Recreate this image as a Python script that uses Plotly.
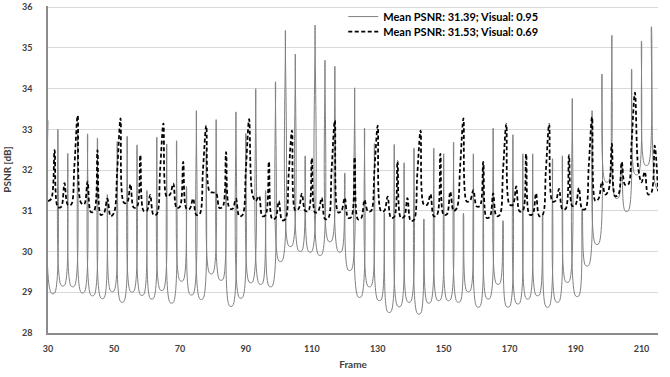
import plotly.graph_objects as go

frames = list(range(30, 216))

# Solid series (gray), one value per frame 30..215
psnr_solid = [
    33.22, 28.98, 28.98, 33.00, 29.17, 29.17, 32.41, 29.15, 29.15, 32.90, 29.00, 29.00,   # 30-41
    32.89, 28.93, 28.93, 32.79, 28.86, 28.86, 31.40, 29.03, 29.03, 32.70, 28.77, 28.77,   # 42-53
    32.83, 29.02, 29.02, 32.62, 28.94, 28.94, 31.50, 28.85, 28.85, 32.81, 29.06, 29.06,   # 54-65
    32.64, 28.75, 28.75, 32.72, 29.29, 29.29, 31.60, 28.95, 28.95, 33.46, 28.84, 28.84,   # 66-77
    32.50, 29.47, 29.47, 33.24, 29.31, 29.31, 31.70, 28.67, 28.67, 33.43, 28.87, 28.87,   # 78-89
    32.90, 29.25, 29.25, 34.00, 29.21, 29.21, 31.50, 29.15, 29.15, 34.17, 29.77, 29.77,   # 90-101
    35.43, 30.14, 30.14, 34.85, 30.02, 30.02, 32.35, 30.00, 30.00, 35.56, 29.92, 29.92,   # 102-113
    34.70, 30.26, 30.26, 34.55, 30.00, 30.00, 31.93, 29.55, 29.55, 34.02, 28.89, 28.89,   # 114-125
    33.03, 29.15, 29.15, 32.65, 28.81, 28.81, 30.95, 28.52, 28.52, 32.63, 28.66, 28.66,   # 126-137
    32.18, 28.77, 28.77, 32.54, 28.48, 28.48, 30.80, 28.75, 28.75, 32.54, 28.81, 28.81,   # 138-149
    32.40, 28.81, 28.81, 32.69, 28.77, 28.77, 30.94, 29.03, 29.03, 32.40, 28.65, 28.65,   # 150-161
    32.16, 28.85, 28.85, 33.03, 29.21, 29.21, 30.76, 28.65, 28.65, 32.87, 28.73, 28.73,   # 162-173
    32.40, 28.85, 28.85, 32.40, 28.93, 28.93, 30.91, 28.65, 28.65, 32.28, 28.77, 28.77,   # 174-185
    32.35, 29.26, 29.26, 33.76, 28.91, 28.91, 31.05, 29.66, 29.66, 33.46, 30.19, 30.19,   # 186-197
    34.36, 31.72, 31.72, 35.31, 31.32, 31.32, 32.18, 31.00, 31.00, 34.48, 31.90, 31.90,   # 198-209
    35.17, 32.13, 32.13, 35.52, 31.70, 31.50,                                             # 210-215
]

# Dashed series (black), one value per frame 30..215
psnr_dashed = [
    31.24, 31.30, 32.49, 31.09, 31.10, 31.68, 31.15, 31.15, 32.10, 33.34, 31.20, 31.16,   # 30-41
    31.72, 30.97, 31.00, 32.49, 30.90, 30.95, 31.30, 30.87, 30.95, 32.00, 33.27, 31.20,   # 42-53
    31.20, 31.65, 31.08, 31.10, 32.37, 31.00, 31.00, 31.39, 30.90, 30.92, 32.00, 33.15,   # 54-65
    31.35, 31.40, 31.67, 31.07, 31.10, 32.20, 31.05, 31.05, 31.30, 30.90, 30.92, 32.00,   # 66-77
    33.09, 31.47, 31.45, 31.43, 31.07, 31.10, 32.44, 31.07, 31.05, 31.30, 30.87, 30.90,   # 78-89
    32.00, 33.25, 31.40, 31.24, 31.36, 30.87, 30.90, 32.21, 30.80, 30.82, 31.24, 30.77,   # 90-101
    30.80, 31.90, 32.97, 31.01, 31.05, 31.42, 31.00, 31.00, 32.29, 30.96, 31.00, 31.32,   # 102-113
    30.80, 30.82, 32.00, 33.22, 30.96, 31.00, 31.32, 30.83, 30.85, 32.32, 30.79, 30.82,   # 114-125
    31.27, 30.99, 31.00, 32.00, 33.09, 30.99, 31.00, 31.35, 30.83, 30.85, 32.22, 30.83,   # 126-137
    30.85, 31.31, 30.75, 30.78, 31.90, 32.97, 31.15, 31.15, 31.41, 30.87, 30.90, 32.40,   # 138-149
    30.90, 30.92, 31.47, 31.00, 31.07, 32.10, 33.27, 31.23, 31.25, 31.51, 31.11, 31.12,   # 150-161
    32.20, 30.83, 30.85, 31.43, 30.87, 30.90, 32.00, 33.13, 31.15, 31.15, 31.60, 30.99,   # 162-173
    31.00, 32.40, 30.91, 30.92, 31.43, 30.87, 30.90, 32.00, 33.13, 31.23, 31.25, 31.54,   # 174-185
    31.04, 31.05, 32.37, 31.12, 31.15, 31.56, 31.04, 31.05, 32.10, 33.30, 31.24, 31.30,   # 186-197
    31.72, 31.40, 31.50, 32.65, 31.36, 31.40, 32.20, 31.64, 31.65, 32.70, 33.90, 32.05,   # 198-209
    31.70, 31.96, 31.40, 31.45, 32.60, 31.48,                                             # 210-215
]

names = ["Mean PSNR: 31.39; Visual: 0.95", "Mean PSNR: 31.53; Visual: 0.69"]
x_ticks = [30, 50, 70, 90, 110, 130, 150, 170, 190, 210]
y_ticks = [28, 29, 30, 31, 32, 33, 34, 35, 36]

FONT = "Lato"

fig = go.Figure()
fig.add_trace(go.Scatter(
    x=frames, y=psnr_solid, mode="lines", name=names[0], legend="legend",
    line=dict(color="#808080", width=1, shape="spline", smoothing=1),
))
fig.add_trace(go.Scatter(
    x=frames, y=psnr_dashed, mode="lines", name=names[1], legend="legend2",
    line=dict(color="#000000", width=1.75, shape="spline", smoothing=1, dash="4px,2.5px"),
))

legend_style = dict(
    xanchor="left", yanchor="top",
    bgcolor="rgba(0,0,0,0)", borderwidth=0,
    font=dict(family=FONT, size=11, color="#000000", weight="bold"),
    itemwidth=30,
)

fig.update_layout(
    width=670, height=377,
    margin=dict(l=48, r=12, t=2, b=44),
    paper_bgcolor="white", plot_bgcolor="white",
    font=dict(family=FONT, size=9, color="#404040"),
    showlegend=True,
    legend=dict(x=0.484, y=1.012, **legend_style),
    legend2=dict(x=0.484, y=0.966, **legend_style),
)
fig.update_xaxes(
    range=[30, 215], tickvals=x_ticks, ticktext=[str(v) for v in x_ticks],
    showgrid=False, zeroline=False,
    showline=True, linecolor="#8c8c8c", linewidth=1.5,
    ticks="", ticklabelstandoff=6,
    tickfont=dict(family=FONT, size=9, color="#404040", weight="bold"),
    title=dict(text="Frame", standoff=8, font=dict(family=FONT, size=10, color="#404040", weight="bold")),
)
fig.update_yaxes(
    range=[28, 36.03], tickvals=y_ticks, ticktext=[str(v) for v in y_ticks],
    showgrid=True, gridcolor="#d9d9d9", gridwidth=1, zeroline=False,
    showline=True, linecolor="#8c8c8c", linewidth=1.5,
    ticks="", ticklabelstandoff=12, ticklabeloverflow="allow",
    tickfont=dict(family=FONT, size=9, color="#404040", weight="bold"),
    title=dict(text="PSNR [dB]", standoff=8, font=dict(family=FONT, size=10, color="#404040", weight="bold")),
)

fig.write_html(
    "out.html",
    config={"displayModeBar": False},
    post_script="document.body.style.margin='0';document.body.style.padding='0';document.body.style.overflow='hidden';",
)
